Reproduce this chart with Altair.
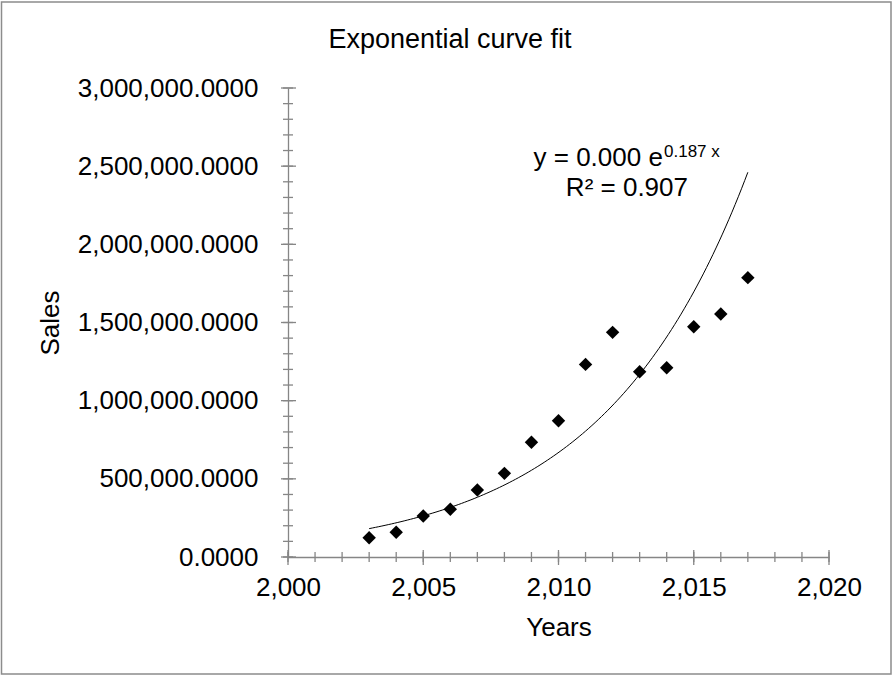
import altair as alt
import numpy as np
import pandas as pd

# ---- data -------------------------------------------------------------
years = [2003, 2004, 2005, 2006, 2007, 2008, 2009, 2010,
         2011, 2012, 2013, 2014, 2015, 2016, 2017]
sales = [123000, 158000, 262000, 305000, 429000, 535000, 734000, 872000,
         1232000, 1437000, 1185000, 1211000, 1473000, 1554000, 1787000]

# axis tick positions
x_major = [2000, 2005, 2010, 2015, 2020]
x_minor = list(range(2000, 2021, 1))
y_major = [0, 500000, 1000000, 1500000, 2000000, 2500000, 3000000]
y_minor = list(range(0, 3000001, 100000))

# text
chart_title = "Exponential curve fit"
eq_main = "y = 0.000 e"
eq_exp = "0.187 x"
eq_r2 = "R² = 0.907"

FONT = "Liberation Sans"
AXIS_GREY = "#868686"

W, H = 541, 469
PAD = {"left": 288, "top": 88, "right": 64, "bottom": 118}

pts = pd.DataFrame({"x": years, "y": sales})

# exponential least-squares fit on log(sales), sampled along the data range
yrs = np.array(years, dtype=float)
xc = yrs.mean()
b, a = np.polyfit(yrs - xc, np.log(np.array(sales, dtype=float)), 1)
grid = np.linspace(yrs.min(), yrs.max(), 120)
trend = pd.DataFrame({"x": grid, "y": np.exp(a + b * (grid - xc))})

x_scale = alt.Scale(domain=[2000, 2020], nice=False, zero=False)
y_scale = alt.Scale(domain=[0, 3000000], nice=False)

axis_common = dict(grid=False, ticks=False, tickSize=0, domainColor=AXIS_GREY,
                   domainWidth=1.3, labelFont=FONT, labelFontSize=26,
                   labelColor="black", labelFlush=False, labelLimit=400,
                   labelOverlap=False, titleFont=FONT, titleFontSize=26,
                   titleFontWeight="normal", titleColor="black")
x_axis = alt.Axis(values=x_major, format=",", title="Years",
                  labelPadding=17, titlePadding=14, **axis_common)
y_axis = alt.Axis(values=y_major, format=",.4f", title="Sales",
                  labelPadding=30, titlePadding=25, **axis_common)


def X(field="x"):
    return alt.X(f"{field}:Q", scale=x_scale, axis=x_axis)


def Y(field="y"):
    return alt.Y(f"{field}:Q", scale=y_scale, axis=y_axis)


one = pd.DataFrame({"k": [0]})

# outer chart frame
frame = alt.Chart(one).mark_rect(
    fill=None, stroke="#8c8c8c", strokeWidth=1.5
).encode(x=alt.value(-286.5), x2=alt.value(603), y=alt.value(-86), y2=alt.value(586))

title = alt.Chart(one).mark_text(
    text=chart_title, font=FONT, fontSize=27, align="center",
    baseline="alphabetic", color="black"
).encode(x=alt.value(162), y=alt.value(-40))

# cross ticks on both axes
rule_kw = dict(color=AXIS_GREY, strokeWidth=1.3)
ymaj = alt.Chart(pd.DataFrame({"y": y_major})).mark_rule(**rule_kw).encode(
    y=Y(), x=alt.value(-7), x2=alt.value(8))
ymin = alt.Chart(pd.DataFrame({"y": y_minor})).mark_rule(**rule_kw).encode(
    y=Y(), x=alt.value(-5), x2=alt.value(5))
xmaj = alt.Chart(pd.DataFrame({"x": x_major})).mark_rule(**rule_kw).encode(
    x=X(), y=alt.value(H - 7), y2=alt.value(H + 8))
xmin = alt.Chart(pd.DataFrame({"x": x_minor})).mark_rule(**rule_kw).encode(
    x=X(), y=alt.value(H - 5), y2=alt.value(H + 5))

curve = alt.Chart(trend).mark_line(color="black", strokeWidth=1).encode(x=X(), y=Y())

points = alt.Chart(pts).mark_point(shape="diamond", filled=True, color="black",
                                   opacity=1, size=180).encode(x=X(), y=Y())

ann = pd.DataFrame({
    "text": [eq_main, eq_exp, eq_r2],
    "x": [2013.86, 2013.90, 2012.53],
    "y": [2501000, 2558000, 2309000],
    "align": ["right", "left", "center"],
    "size": [26, 17, 26],
})
ann_layers = []
for i, row in ann.iterrows():
    ann_layers.append(
        alt.Chart(ann.iloc[[i]]).mark_text(
            font=FONT, fontSize=int(row["size"]), align=row["align"],
            baseline="alphabetic", color="black"
        ).encode(x=X(), y=Y(), text="text:N")
    )

chart = alt.layer(
    ymin, ymaj, xmin, xmaj, curve, points, *ann_layers, frame, title
).properties(
    width=W, height=H,
    padding=PAD,
    background="white",
    autosize=alt.AutoSizeParams(type="none"),
).configure_view(strokeWidth=0, stroke="transparent")

chart.save("out.html", embed_options={"renderer": "svg", "actions": False})
